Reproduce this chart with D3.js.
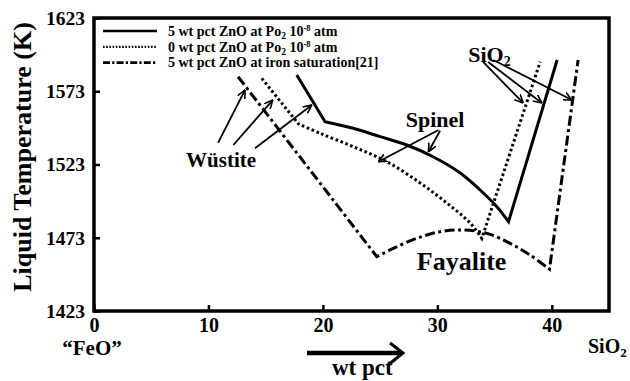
<!DOCTYPE html>
<html><head><meta charset="utf-8">
<script src="https://cdn.jsdelivr.net/npm/d3@7"></script>
<style>
html,body{margin:0;padding:0;background:#fff;}
</style></head>
<body><svg id="chart" width="630" height="381"></svg>
<script>
// ---- data ----
const xTicks = [0, 10, 20, 30, 40];
const yTicks = [1423, 1473, 1523, 1573, 1623];
// 5 wt pct ZnO at Po2 10^-8 atm  [wt pct SiO2, K]
const zno5Po2 = [[17.72,1584.1],[20.19,1552.2],[22.64,1547.7],[25.0,1542.0],[27.33,1536.3],[29.63,1528.3],[32.0,1517.2],[33.74,1505.6],[35.2,1494.2],[36.22,1484.0],[40.47,1594.3]];
// 0 wt pct ZnO at Po2 10^-8 atm
const zno0Po2 = [[14.66,1581.8],[17.86,1550.8],[19.76,1544.3],[22.64,1535.2],[25.59,1524.9],[28.5,1510.4],[30.83,1496.7],[32.87,1483.1],[33.89,1472.6],[38.99,1593.2]];
// 5 wt pct ZnO at iron saturation [21]
const zno5Fe = [[12.59,1582.9],[24.71,1460.1],[26.16,1465.7],[28.2,1472.6],[30.24,1477.1],[32.28,1478.3],[34.33,1476.0],[36.36,1469.2],[38.1,1461.2],[39.8,1451.5],[42.3,1594.3]];
const legendLabels = ["5 wt pct ZnO at Po", "0 wt pct ZnO at Po", "5 wt pct ZnO at iron saturation[21]"];
// phase labels [text, x, y, size] and arrows [[x1,y1],[x2,y2]] in data units
const phaseLabels = [["Wüstite",11.1,1521.3,21],["Spinel",29.8,1548.8,22],["Fayalite",32.12,1451,26]];
const wustiteArrows = [[[10.84,1537.7],[13.2,1573.9]],[[12.18,1536.3],[15.62,1567.0]],[[14.07,1534.1],[19.03,1563.6]]];
const spinelArrows = [[[30.1,1546.5],[24.85,1524.9]],[[30.24,1546.0],[29.22,1531.7]]];
const silicaArrows = [[[34.0,1593],[37.5,1565]],[[34.44,1593],[39.13,1565]],[[34.88,1594.3],[41.76,1567.0]]];

const FONT = '"Liberation Serif","DejaVu Serif",serif';

// ---- layout ----
const svg = d3.select("#chart");
const L = 94, R = 609, T = 18, B = 311;
const x = d3.scaleLinear().domain([0,45]).range([L,R]);
const y = d3.scaleLinear().domain([1423,1623]).range([B,T]);

svg.append("rect").attr("width",630).attr("height",381).attr("fill","#fff");

function txt(sel){ return sel.attr("font-family",FONT).attr("font-weight","bold").attr("fill","#000"); }

// arrow marker
const defs = svg.append("defs");
defs.append("marker").attr("id","ah").attr("viewBox","0 0 10 10").attr("refX",9.5).attr("refY",5)
  .attr("markerWidth",9).attr("markerHeight",9).attr("markerUnits","userSpaceOnUse").attr("orient","auto")
  .append("path").attr("d","M0,0.5 L9.5,5 L0,9.5").attr("fill","none").attr("stroke","#000").attr("stroke-width",1.8);

// axes
const xAxis = d3.axisBottom(x).tickValues(xTicks).tickFormat(d3.format("d")).tickSizeInner(-6).tickSizeOuter(0).tickPadding(9);
const yAxis = d3.axisLeft(y).tickValues(yTicks).tickFormat(d3.format("d")).tickSizeInner(-6).tickSizeOuter(0).tickPadding(9);
const gx = svg.append("g").attr("transform",`translate(0,${B})`).call(xAxis);
const gy = svg.append("g").attr("transform",`translate(${L},0)`).call(yAxis);
[gx,gy].forEach(g=>{
  g.attr("font-family",FONT).attr("font-weight","bold");
  g.select(".domain").remove();
  g.selectAll(".tick line").attr("stroke","#000").attr("stroke-width",2.5);
  g.selectAll(".tick text").call(txt).attr("font-size",20);
});
gy.selectAll(".tick text").attr("font-size",19.5);
gx.selectAll(".tick text").attr("dy","0.62em");

// frame
svg.append("rect").attr("x",L).attr("y",T).attr("width",R-L).attr("height",B-T)
  .attr("fill","none").attr("stroke","#000").attr("stroke-width",3.5);

// curves: straight liquidus segment, smooth middle boundary, straight silica segment
const arcLine = d3.line().x(d=>x(d[0])).y(d=>y(d[1])).curve(d3.curveCatmullRom.alpha(0.5));
function curvePath(data){
  const n = data.length;
  const p = d => `${x(d[0])},${y(d[1])}`;
  const mid = arcLine(data.slice(1,n-1)).replace(/^M[^CL]*/,"");
  return `M${p(data[0])}L${p(data[1])}${mid}L${p(data[n-1])}`;
}
const styles = [
  {data:zno5Po2, dash:null, w:3},
  {data:zno0Po2, dash:"2.6,2.6", w:3},
  {data:zno5Fe, dash:"10,3.5,3,3.5", w:3}
];
styles.forEach(s=>{
  svg.append("path").attr("d",curvePath(s.data)).attr("fill","none").attr("stroke","#000")
    .attr("stroke-width",s.w).attr("stroke-dasharray",s.dash).attr("stroke-linejoin","miter");
});

// legend
const legY = [31, 46.8, 62.6];
const legDash = [null, "1.6,1.6", "7,2.2,2.2,2.2"];
legendLabels.forEach((lab,i)=>{
  svg.append("line").attr("x1",103).attr("x2",157).attr("y1",legY[i]).attr("y2",legY[i])
    .attr("stroke","#000").attr("stroke-width",i===1?2.2:2.6).attr("stroke-dasharray",legDash[i]);
  const t = svg.append("text").attr("x",168).attr("y",legY[i]+4.8).attr("font-size",14).call(txt);
  t.append("tspan").text(lab);
  if(i<2){
    t.append("tspan").attr("dy",3).attr("font-size",9.5).text("2");
    t.append("tspan").attr("dy",-3).text(" 10");
    t.append("tspan").attr("dy",-5).attr("font-size",8.5).text("-8");
    t.append("tspan").attr("dy",5).text(" atm");
  }
});

// phase labels
phaseLabels.forEach(p=>{
  svg.append("text").attr("x",x(p[1])).attr("y",y(p[2])).attr("text-anchor","middle")
    .attr("font-size",p[3]).call(txt).text(p[0]);
});
const sio = svg.append("text").attr("x",x(32.7)).attr("y",y(1593.2)).attr("font-size",22).call(txt);
sio.append("tspan").text("SiO");
sio.append("tspan").attr("dy",4).attr("font-size",14).text("2");

// arrows
[...wustiteArrows, ...spinelArrows, ...silicaArrows].forEach(a=>{
  svg.append("line").attr("x1",x(a[0][0])).attr("y1",y(a[0][1])).attr("x2",x(a[1][0])).attr("y2",y(a[1][1]))
    .attr("stroke","#000").attr("stroke-width",1.8).attr("marker-end","url(#ah)");
});

// y title
svg.append("text").attr("transform","translate(31,157) rotate(-90)").attr("text-anchor","middle")
  .attr("font-size",26).call(txt).text("Liquid Temperature (K)");

// bottom labels
svg.append("text").attr("x",92).attr("y",355).attr("text-anchor","middle").attr("font-size",21).call(txt).text("\u201CFeO\u201D");
const s2 = svg.append("text").attr("x",588).attr("y",353).attr("font-size",20).call(txt);
s2.append("tspan").text("SiO");
s2.append("tspan").attr("dy",4).attr("font-size",13).text("2");
svg.append("text").attr("x",332).attr("y",375).attr("font-size",23).call(txt).text("wt pct");
svg.append("line").attr("x1",307).attr("x2",401).attr("y1",353).attr("y2",353).attr("stroke","#000").attr("stroke-width",4.5);
svg.append("path").attr("d","M390,343 L403,353 L390,363.5").attr("fill","none").attr("stroke","#000").attr("stroke-width",3);
</script></body></html>
